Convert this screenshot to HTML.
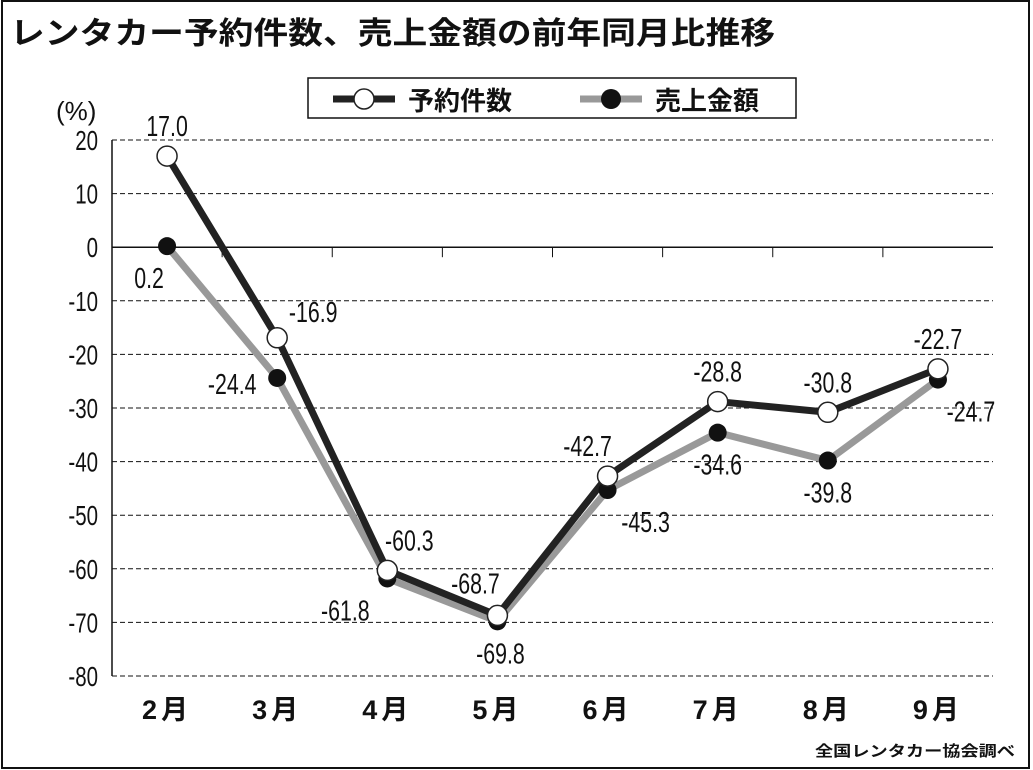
<!DOCTYPE html>
<html><head><meta charset="utf-8"><style>
html,body{margin:0;padding:0;background:#fff}
svg{display:block;font-family:"Liberation Sans","Noto Sans CJK JP",sans-serif}
</style></head><body>
<svg id="chart" width="1033" height="770" viewBox="0 0 1033 770">
<rect x="2" y="1" width="1027" height="767" fill="none" stroke="#111" stroke-width="2"/>
<text x="10" y="44" font-size="31" font-weight="bold" fill="#111" textLength="765" lengthAdjust="spacingAndGlyphs">レンタカー予約件数、売上金額の前年同月比推移</text>
<g>
<rect x="308" y="78" width="488" height="40" fill="#fff" stroke="#111" stroke-width="1.5"/>
<line x1="333" y1="99" x2="395" y2="99" stroke="#222" stroke-width="7"/>
<circle cx="364" cy="99" r="10" fill="#fff" stroke="#222" stroke-width="1.5"/>
<text x="408" y="110" font-size="26" font-weight="bold" fill="#111">予約件数</text>
<line x1="580" y1="99" x2="642" y2="99" stroke="#999" stroke-width="7"/>
<circle cx="611" cy="99" r="10" fill="#111"/>
<text x="655" y="110" font-size="26" font-weight="bold" fill="#111">売上金額</text>
</g>
<text x="56" y="120" font-size="26" fill="#111">(%)</text>
<text x="815" y="756" font-size="15" font-weight="bold" fill="#111" textLength="200" lengthAdjust="spacingAndGlyphs">全国レンタカー協会調べ</text>
<g id="grid"></g>
<g id="series"></g>
<g id="labels"></g>
</svg>
<script>
const categories=["2月","3月","4月","5月","6月","7月","8月","9月"];
const bookings=[17.0,-16.9,-60.3,-68.7,-42.7,-28.8,-30.8,-22.7];
const sales=[0.2,-24.4,-61.8,-69.8,-45.3,-34.6,-39.8,-24.7];
const yTicks=[20,10,0,-10,-20,-30,-40,-50,-60,-70,-80];
const bookingLabels=["17.0","-16.9","-60.3","-68.7","-42.7","-28.8","-30.8","-22.7"];
const salesLabels=["0.2","-24.4","-61.8","-69.8","-45.3","-34.6","-39.8","-24.7"];

const NS="http://www.w3.org/2000/svg";
const L=112,R=993,T=140,B=676,yMax=20,yMin=-80;
const bw=(R-L)/categories.length;
const x=i=>L+bw*(i+0.5);
const y=v=>T+(yMax-v)/(yMax-yMin)*(B-T);
function mk(tag,attrs,parent){const e=document.createElementNS(NS,tag);for(const k in attrs)e.setAttribute(k,attrs[k]);parent.appendChild(e);return e;}
const grid=document.getElementById('grid'),ser=document.getElementById('series'),lab=document.getElementById('labels');
function condensed(t,cx,cy,anchor){t.setAttribute('transform','translate('+cx+','+cy+') scale(0.82,1.1)');t.setAttribute('text-anchor',anchor);}

yTicks.forEach(v=>{
  const ln=mk('line',{x1:L,x2:R,y1:y(v),y2:y(v),stroke:'#111','stroke-width':v===0?1.5:1,'stroke-dasharray':v===0?'none':'5,3'},grid);
  
  
  const t=mk('text',{x:0,y:0,'font-size':25,fill:'#111'},grid);
  condensed(t,98,y(v)+10,'end');
  t.textContent=v;
  
  
});
const ax=mk('line',{x1:L,x2:L,y1:T,y2:B,stroke:'#111','stroke-width':1.5},grid);


categories.forEach((c,i)=>{
  if(i>0){const tk=mk('line',{x1:L+bw*i,x2:L+bw*i,y1:y(0),y2:y(0)+10,stroke:'#111','stroke-width':1},grid);
  
  }
  const t=mk('text',{x:x(i),y:719,'font-size':27,'font-weight':'bold','text-anchor':'middle','letter-spacing':'4',fill:'#111'},grid);
  t.textContent=c;
  
  
});

const sp=mk('polyline',{points:sales.map((v,i)=>x(i)+','+y(v)).join(' '),fill:'none',stroke:'#999','stroke-width':7},ser);


const bp=mk('polyline',{points:bookings.map((v,i)=>x(i)+','+y(v)).join(' '),fill:'none',stroke:'#222','stroke-width':7},ser);


sales.forEach((v,i)=>{
  const c=mk('circle',{cx:x(i),cy:y(v),r:9,fill:'#111'},ser);
  
  
});
bookings.forEach((v,i)=>{
  const c=mk('circle',{cx:x(i),cy:y(v),r:10,fill:'#fff',stroke:'#222','stroke-width':1.5},ser);
  
  
});
const bOff=[[0,-20],[36,-16],[22,-20],[-22,-22],[-20,-20],[0,-20],[0,-20],[0,-20]];
const sOff=[[-18,42],[-45,16],[-42,42],[3,42],[38,42],[0,42],[0,42],[33,42]];
bookings.forEach((v,i)=>{
  const t=mk('text',{x:0,y:0,'font-size':26,fill:'#111'},lab);
  condensed(t,x(i)+bOff[i][0],y(v)+bOff[i][1],'middle');
  t.textContent=bookingLabels[i];
  
  
});
sales.forEach((v,i)=>{
  const t=mk('text',{x:0,y:0,'font-size':26,fill:'#111'},lab);
  condensed(t,x(i)+sOff[i][0],y(v)+sOff[i][1],'middle');
  t.textContent=salesLabels[i];
  
  
});
</script>
</body></html>
